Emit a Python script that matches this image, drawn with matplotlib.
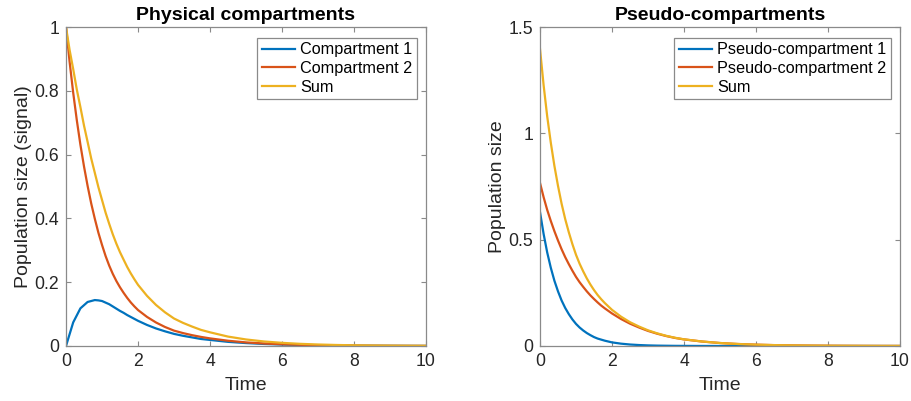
import matplotlib
matplotlib.use("Agg")
import matplotlib.pyplot as plt

plt.rcParams['font.family'] = ['Liberation Sans', 'DejaVu Sans']

# Sample times shared by all curves
time = [0, 0.1, 0.2, 0.3, 0.4, 0.5, 0.6, 0.7, 0.8, 0.9, 1.0, 1.1, 1.2, 1.3, 1.4,
        1.5, 1.6, 1.7, 1.8, 1.9, 2.0, 2.25, 2.5, 2.75, 3.0, 3.25, 3.5, 3.75, 4.0,
        4.5, 5.0, 5.5, 6.0, 6.5, 7.0, 7.5, 8.0, 8.5, 9.0, 9.5, 10.0]

# Physical compartments
compartment1 = [0, 0.037, 0.074, 0.096, 0.118, 0.128, 0.138, 0.141, 0.144, 0.143,
                0.141, 0.136, 0.131, 0.124, 0.117, 0.110, 0.104, 0.097, 0.091,
                0.085, 0.079, 0.066, 0.055, 0.046, 0.038, 0.032, 0.027, 0.022,
                0.019, 0.013, 0.0092, 0.0064, 0.0045, 0.0031, 0.0022, 0.0015,
                0.0010, 0.0007, 0.0005, 0.00035, 0.00025]
compartment2 = [1.0, 0.891, 0.794, 0.708, 0.631, 0.563, 0.502, 0.447, 0.399, 0.355,
                0.317, 0.282, 0.252, 0.226, 0.2035, 0.184, 0.1667, 0.1508, 0.1365,
                0.1241, 0.1128, 0.0912, 0.0737, 0.0596, 0.0482, 0.0405, 0.0340,
                0.0285, 0.0239, 0.0165, 0.0113, 0.0078, 0.0054, 0.0037, 0.0025,
                0.0017, 0.0012, 0.0008, 0.00055, 0.00038, 0.00026]
physical_sum = [1.0, 0.928, 0.868, 0.804, 0.749, 0.691, 0.640, 0.588, 0.543, 0.498,
                0.458, 0.418, 0.383, 0.350, 0.3205, 0.294, 0.2707, 0.2478, 0.2275,
                0.2091, 0.1918, 0.1572, 0.1287, 0.1056, 0.0862, 0.0725, 0.0610,
                0.0505, 0.0429, 0.0295, 0.0205, 0.0142, 0.0099, 0.0068, 0.0047,
                0.0032, 0.0022, 0.0015, 0.00105, 0.00073, 0.00051]

# Pseudo-compartments
pseudo1 = [0.630, 0.527, 0.440, 0.368, 0.307, 0.257, 0.214, 0.179, 0.150, 0.125,
           0.104, 0.087, 0.073, 0.061, 0.051, 0.042, 0.035, 0.030, 0.025, 0.021,
           0.017, 0.011, 0.007, 0.0045, 0.0028, 0.0018, 0.0012, 0.0007, 0.0005,
           0.0002, 0.0001, 0.0, 0.0, 0.0, 0.0, 0.0, 0.0, 0.0, 0.0, 0.0, 0.0]
pseudo2 = [0.767, 0.700, 0.640, 0.588, 0.540, 0.496, 0.455, 0.418, 0.385, 0.354,
           0.325, 0.300, 0.278, 0.257, 0.238, 0.221, 0.205, 0.190, 0.177, 0.165,
           0.153, 0.127, 0.105, 0.087, 0.071, 0.058, 0.047, 0.038, 0.031, 0.021,
           0.014, 0.0094, 0.0063, 0.0042, 0.0028, 0.0019, 0.0013, 0.0009, 0.0006,
           0.0004, 0.0003]
pseudo_sum = [1.397, 1.227, 1.080, 0.956, 0.847, 0.753, 0.669, 0.597, 0.535, 0.479,
              0.429, 0.387, 0.351, 0.318, 0.289, 0.263, 0.240, 0.220, 0.202, 0.186,
              0.170, 0.138, 0.112, 0.0915, 0.0738, 0.0598, 0.0482, 0.0387, 0.0315,
              0.0212, 0.0141, 0.0094, 0.0063, 0.0042, 0.0028, 0.0019, 0.0013,
              0.0009, 0.0006, 0.0004, 0.0003]

physical_labels = ['Compartment 1', 'Compartment 2', 'Sum']
pseudo_labels = ['Pseudo-compartment 1', 'Pseudo-compartment 2', 'Sum']

colors = ['#0072BD', '#D95319', '#EDB120']
axis_gray = '#8a8a8a'
text_color = '#262626'

W, H = 911, 401
fig = plt.figure(figsize=(W / 100, H / 100), dpi=100)


def px_axes(x0, x1, y0, y1):
    return fig.add_axes([x0 / W, 1 - y1 / H, (x1 - x0) / W, (y1 - y0) / H])


def style(ax, yticks, yticklabels, ylim, ylabel, title):
    ax.set_xlim(0, 10)
    ax.set_ylim(*ylim)
    ax.set_xticks([0, 2, 4, 6, 8, 10])
    ax.set_xticklabels(['0', '2', '4', '6', '8', '10'])
    ax.set_yticks(yticks)
    ax.set_yticklabels(yticklabels)
    for sp in ax.spines.values():
        sp.set_color(axis_gray)
        sp.set_linewidth(0.9)
    ax.tick_params(direction='in', length=3.5, width=0.8, color=axis_gray,
                   top=True, right=True, labelsize=12.7, labelcolor=text_color,
                   pad=5)
    ax.set_xlabel('Time', fontsize=14, color=text_color, labelpad=5)
    ax.set_ylabel(ylabel, fontsize=14, color=text_color, labelpad=2)
    ax.set_title(title, fontsize=14, fontweight='bold', color='black', pad=5)


def legend(ax, handles, labels):
    leg = ax.legend(handles, labels, loc='upper right',
                    bbox_to_anchor=(0.976, 0.967), borderaxespad=0,
                    fontsize=11.7, handlelength=2.0, handletextpad=0.35,
                    labelspacing=0.22, borderpad=0.3, fancybox=False,
                    framealpha=1, edgecolor=axis_gray)
    leg.get_frame().set_linewidth(0.9)
    for t in leg.get_texts():
        t.set_color('black')


# Left panel
ax1 = px_axes(66, 426, 27, 346)
h = []
for series, c in zip([compartment1, compartment2, physical_sum], colors):
    h.append(ax1.plot(time, series, color=c, lw=1.6)[0])
style(ax1, [0, 0.2, 0.4, 0.6, 0.8, 1], ['0', '0.2', '0.4', '0.6', '0.8', '1'],
      (0, 1), 'Population size (signal)', 'Physical compartments')
legend(ax1, h, physical_labels)

# Right panel
ax2 = px_axes(540, 900, 27, 346)
h = []
for series, c in zip([pseudo1, pseudo2, pseudo_sum], colors):
    h.append(ax2.plot(time, series, color=c, lw=1.6)[0])
style(ax2, [0, 0.5, 1, 1.5], ['0', '0.5', '1', '1.5'],
      (0, 1.5), 'Population size', 'Pseudo-compartments')
legend(ax2, h, pseudo_labels)

fig.savefig('out.png', dpi=100, facecolor='white')
